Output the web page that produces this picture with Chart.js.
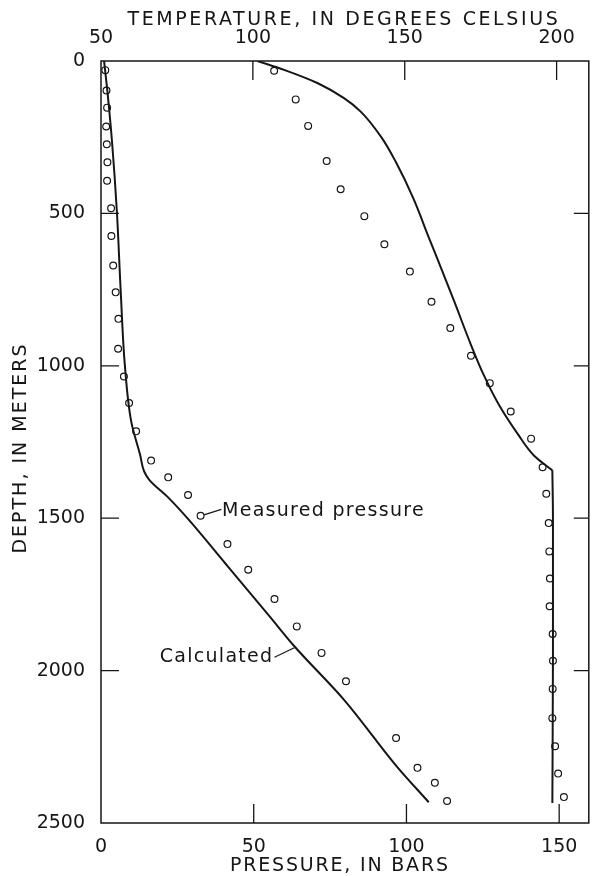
<!DOCTYPE html>
<html>
<head>
<meta charset="utf-8">
<script src="https://cdn.jsdelivr.net/npm/chart.js@4"></script>
<style>
    body { margin: 0; background: #fff; }
    canvas { display: block; }
</style>
</head>
<body>
<canvas id="depthChart" width="594" height="876"></canvas>
<script>
// Achsen
const depthTicks = [0, 500, 1000, 1500, 2000, 2500];
const pressureTicks = [0, 50, 100, 150];
const temperatureTicks = [50, 100, 150, 200];

// Druck, gemessen (bar) und Tiefe (m)
const measuredPressureDepth = [30, 97, 153, 215, 273, 332, 393, 483, 574, 671, 759, 846, 944, 1035, 1122, 1215,
    1311, 1366, 1424, 1492, 1585, 1669, 1765, 1855, 1942, 2035, 2221, 2319, 2368, 2428];
const measuredPressure = [1.4, 1.8, 2.0, 1.7, 1.9, 2.1, 2.0, 3.3, 3.4, 4.0, 4.8, 5.7, 5.6, 7.5, 9.2, 11.5,
    16.4, 22.0, 28.5, 32.6, 41.4, 48.2, 56.8, 64.1, 72.2, 80.2, 96.6, 103.6, 109.3, 113.3];

// Druck, berechnet
const calculatedPressureDepth = [0, 100, 264, 494, 744, 997, 1183, 1292, 1346, 1374, 1434, 1499, 1647, 1822, 1920, 2095, 2314, 2432];
const calculatedPressure = [1.0, 2.1, 3.6, 5.2, 6.4, 7.8, 9.9, 12.8, 14.1, 15.8, 22.2, 28.2, 40.6, 55.2, 63.3, 79.5, 96.8, 107.3];

// Temperatur, gemessen (°C)
const measuredTempDepth = [32, 126, 213, 328, 421, 509, 601, 691, 790, 876, 967, 1057, 1150, 1239,
    1333, 1420, 1516, 1609, 1698, 1789, 1880, 1968, 2060, 2156, 2248, 2338, 2415];
const measuredTemp = [107.0, 114.1, 118.2, 124.3, 128.9, 136.7, 143.3, 151.7, 158.8, 165.0, 171.8, 178.0, 184.9, 191.6,
    195.4, 196.6, 197.4, 197.6, 197.8, 197.7, 198.7, 198.8, 198.7, 198.6, 199.5, 200.5, 202.4];

// Temperatur, berechnet (Kurve bis zum Knick, dann senkrecht)
const calculatedTempDepth = [0, 30, 73, 122, 166, 253, 330, 450, 581, 680, 789, 931, 1030, 1128, 1225, 1295, 1343];
const calculatedTemp = [101.5, 110.5, 121.4, 130.0, 135.5, 142.5, 147.0, 152.8, 158.0, 162.0, 166.3, 171.8, 176.0, 181.0, 187.3, 192.6, 198.6];
const calculatedTempLowerDepth = [1343, 1505, 1942, 2434];
const calculatedTemp2 = [198.6, 198.8, 198.8, 198.6];

// Beschriftungen im Diagramm (Druck, Tiefe)
const notes = [
    { text: 'Measured pressure', at: [39.6, 1493], leader: [[33.7, 1489], [39.4, 1471]] },
    { text: 'Calculated', at: [19.2, 1971], leader: [[56.8, 1956], [63.3, 1925]] },
];

const ink = '#161616';
const tickFont = { family: 'DejaVu Sans', size: 19 };

function toPoints(xs, ys)
{
    return xs.map((x, i) => ({ x: x, y: ys[i] }));
}

const frameAndNotes = {
    id: 'frameAndNotes',
    beforeDatasetsDraw(chart)
    {
        const { ctx, chartArea: a, scales } = chart;
        ctx.save();
        ctx.strokeStyle = ink;
        ctx.lineWidth = 1.5;
        ctx.strokeRect(a.left, a.top, a.right - a.left, a.bottom - a.top);

        ctx.lineWidth = 1.3;
        ctx.beginPath();
        depthTicks.slice(1, -1).forEach(v =>
        {
            const y = scales.y.getPixelForValue(v);
            ctx.moveTo(a.left, y); ctx.lineTo(a.left + 18, y);
            ctx.moveTo(a.right, y); ctx.lineTo(a.right - 15, y);
        });
        temperatureTicks.slice(1).forEach(v =>
        {
            const x = scales.x2.getPixelForValue(v);
            ctx.moveTo(x, a.top); ctx.lineTo(x, a.top + 19);
        });
        pressureTicks.slice(1).forEach(v =>
        {
            const x = scales.x.getPixelForValue(v);
            ctx.moveTo(x, a.bottom); ctx.lineTo(x, a.bottom - 19);
        });
        ctx.stroke();
        ctx.restore();
    },
    afterDraw(chart)
    {
        const { ctx, chartArea: a, scales } = chart;
        const cx = (a.left + a.right) / 2;
        ctx.save();
        ctx.fillStyle = ink;
        ctx.strokeStyle = ink;
        ctx.font = '19px "DejaVu Sans"';

        // Achsentitel
        ctx.textAlign = 'center';
        ctx.textBaseline = 'middle';
        ctx.letterSpacing = '2.6px';
        ctx.fillText('TEMPERATURE, IN DEGREES CELSIUS', cx - 1, 20);
        ctx.letterSpacing = '1.8px';
        ctx.fillText('PRESSURE, IN BARS', cx - 5, 866);
        ctx.save();
        ctx.translate(21, (a.top + a.bottom) / 2 + 6);
        ctx.rotate(-Math.PI / 2);
        ctx.letterSpacing = '2px';
        ctx.fillText('DEPTH, IN METERS', 0, 0);
        ctx.restore();

        // Hinweise
        ctx.textAlign = 'left';
        ctx.textBaseline = 'alphabetic';
        ctx.letterSpacing = '1.3px';
        ctx.lineWidth = 1.2;
        notes.forEach(n =>
        {
            ctx.fillText(n.text, scales.x.getPixelForValue(n.at[0]), scales.y.getPixelForValue(n.at[1]));
            ctx.beginPath();
            ctx.moveTo(scales.x.getPixelForValue(n.leader[0][0]), scales.y.getPixelForValue(n.leader[0][1]));
            ctx.lineTo(scales.x.getPixelForValue(n.leader[1][0]), scales.y.getPixelForValue(n.leader[1][1]));
            ctx.stroke();
        });
        ctx.restore();
    }
};

// Linien entlang der Tiefe glätten (Tiefe ist monoton)
const lineStyle = {
    showLine: true, pointRadius: 0, borderColor: ink, borderWidth: 2, yAxisID: 'y',
    indexAxis: 'y', cubicInterpolationMode: 'monotone'
};
const pointStyle = {
    showLine: false, pointRadius: 3.4, pointBorderWidth: 1.2,
    pointBackgroundColor: '#fff', pointBorderColor: ink, yAxisID: 'y'
};

const plainNumber = v => String(v);

new Chart(document.getElementById('depthChart').getContext('2d'), {
    type: 'scatter',
    data: {
        datasets: [
            { ...lineStyle, label: 'Calculated pressure', xAxisID: 'x',
              data: toPoints(calculatedPressure, calculatedPressureDepth) },
            { ...lineStyle, label: 'Calculated temperature', xAxisID: 'x2',
              data: toPoints(calculatedTemp, calculatedTempDepth) },
            { ...lineStyle, label: 'Calculated temperature (lower)', xAxisID: 'x2',
              data: toPoints(calculatedTemp2, calculatedTempLowerDepth) },
            { ...pointStyle, label: 'Measured pressure', xAxisID: 'x',
              data: toPoints(measuredPressure, measuredPressureDepth) },
            { ...pointStyle, label: 'Measured temperature', xAxisID: 'x2',
              data: toPoints(measuredTemp, measuredTempDepth) },
        ]
    },
    options: {
        responsive: false,
        devicePixelRatio: 1,
        animation: false,
        layout: { padding: { left: 0, right: 4, top: 0, bottom: 0 } },
        plugins: { legend: { display: false }, tooltip: { enabled: false } },
        scales: {
            y: {
                type: 'linear', position: 'left', reverse: true, min: 0, max: 2500,
                afterBuildTicks: s => { s.ticks = depthTicks.map(v => ({ value: v })); },
                afterFit: s => { s.width = 101; },
                grid: { display: false }, border: { display: false },
                ticks: { font: tickFont, color: ink, padding: 8, callback: plainNumber }
            },
            x: {
                type: 'linear', position: 'bottom', min: 0, max: 159.7,
                afterBuildTicks: s => { s.ticks = pressureTicks.map(v => ({ value: v })); },
                afterFit: s => { s.height = 53; },
                grid: { display: false }, border: { display: false },
                ticks: { font: tickFont, color: ink, padding: 5, maxRotation: 0, autoSkip: false, callback: plainNumber }
            },
            x2: {
                type: 'linear', position: 'top', min: 50, max: 210.6,
                afterBuildTicks: s => { s.ticks = temperatureTicks.map(v => ({ value: v })); },
                afterFit: s => { s.height = 61; },
                grid: { display: false }, border: { display: false },
                ticks: { font: tickFont, color: ink, padding: 4, maxRotation: 0, autoSkip: false, callback: plainNumber }
            }
        }
    },
    plugins: [frameAndNotes]
});
</script>
</body>
</html>
